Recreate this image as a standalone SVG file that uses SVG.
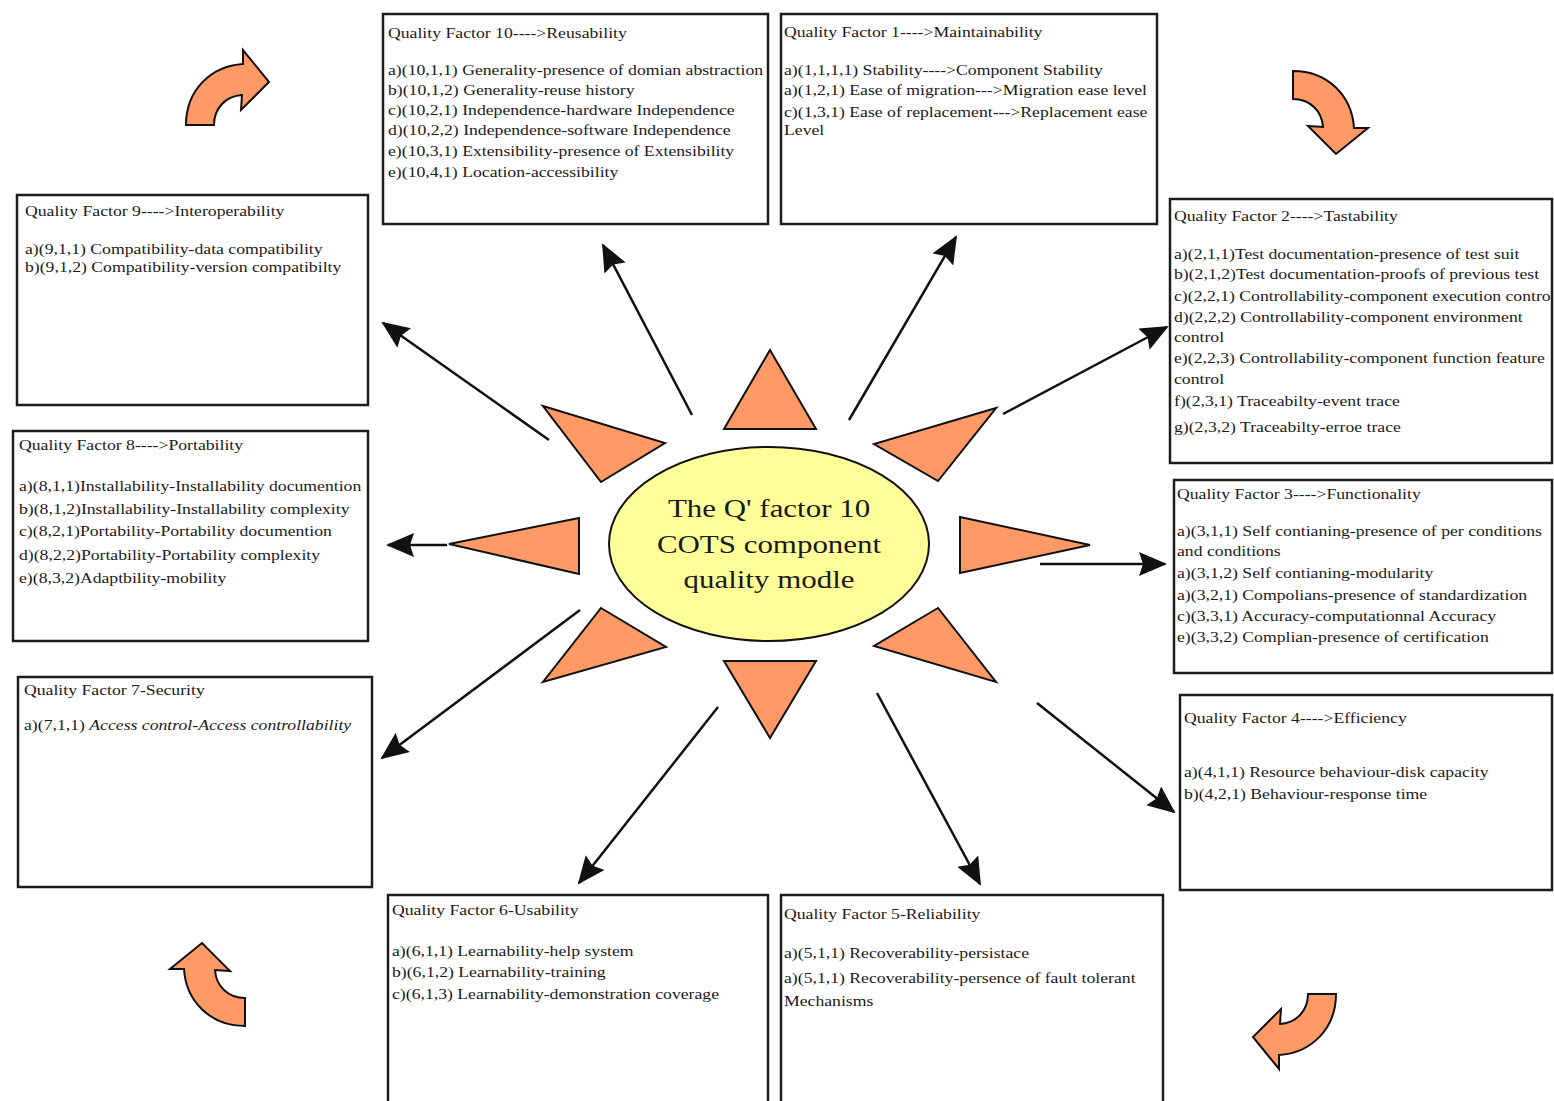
<svg xmlns="http://www.w3.org/2000/svg" width="1554" height="1101" viewBox="0 0 1554 1101">
<style>
.box{fill:#fff;stroke:#1c1c1c;stroke-width:2.5}
.t{font-family:"Liberation Serif","Times New Roman",serif;font-size:15px;fill:#1a1a1a}
.ct{font-family:"Liberation Serif","Times New Roman",serif;font-size:26px;fill:#1a1a1a;text-anchor:middle}
.tri{fill:#FF9966;stroke:#111;stroke-width:2;stroke-linejoin:miter}
.con{stroke:#111;stroke-width:2.5;fill:none;marker-end:url(#ah)}
.curv{fill:#FF9966;stroke:#111;stroke-width:2}
</style>
<defs>
<marker id="ah" markerUnits="userSpaceOnUse" markerWidth="28" markerHeight="24" refX="26" refY="12" orient="auto" viewBox="0 0 28 24">
<path d="M0,0 L28,12 L0,24 L4,12 Z" fill="#111"/>
</marker>
<path id="carrow" d="M-41,37 C-41,2 -16,-22 16,-24 L16,-38 L42,-6 L14,22 L15,7 C-1,8 -13,20 -13,37 Z"/>
<clipPath id="c10"><rect x="383" y="14" width="385" height="210"/></clipPath>
<clipPath id="c1"><rect x="781" y="14" width="376" height="210"/></clipPath>
<clipPath id="c2"><rect x="1170" y="199" width="382" height="264"/></clipPath>
<clipPath id="c9"><rect x="17" y="195" width="351" height="210"/></clipPath>
<clipPath id="c8"><rect x="13" y="431" width="355" height="210"/></clipPath>
<clipPath id="c3"><rect x="1174" y="480" width="378" height="193"/></clipPath>
<clipPath id="c7"><rect x="18" y="677" width="354" height="210"/></clipPath>
<clipPath id="c4"><rect x="1180" y="695" width="372" height="195"/></clipPath>
<clipPath id="c6"><rect x="388" y="895" width="380" height="210"/></clipPath>
<clipPath id="c5"><rect x="781" y="895" width="382" height="210"/></clipPath>
</defs>
<rect width="1554" height="1101" fill="#fff"/>

<g id="connectors">
<line class="con" x1="692" y1="415" x2="603" y2="245"/>
<line class="con" x1="849" y1="420" x2="956" y2="237"/>
<line class="con" x1="1003" y1="414" x2="1167" y2="327"/>
<line class="con" x1="549" y1="440" x2="383" y2="323"/>
<line class="con" x1="447" y1="545" x2="388" y2="545"/>
<line class="con" x1="1040" y1="564" x2="1165" y2="564"/>
<line class="con" x1="580" y1="610" x2="382" y2="758"/>
<line class="con" x1="1037" y1="703" x2="1174" y2="812"/>
<line class="con" x1="718" y1="707" x2="579" y2="883"/>
<line class="con" x1="877" y1="693" x2="980" y2="884"/>
</g>

<g id="center">
<polygon class="tri" points="770,350 816,429 724,429"/>
<polygon class="tri" points="543,406 665,443 601,482"/>
<polygon class="tri" points="996,408 874,444 938,481"/>
<polygon class="tri" points="449,544 579,518 579,574"/>
<polygon class="tri" points="1090,545 960,517 960,573"/>
<polygon class="tri" points="601,608 666,647 543,682"/>
<polygon class="tri" points="938,608 874,646 996,682"/>
<polygon class="tri" points="724,661 816,661 770,738"/>
<ellipse cx="769" cy="544" rx="160" ry="97" fill="#FFFF99" stroke="#111" stroke-width="2"/>
<g transform="translate(769,0) scale(1.19,1)">
<text class="ct" x="0" y="517">The Q' factor 10</text>
<text class="ct" x="0" y="553">COTS component</text>
<text class="ct" x="0" y="588">quality modle</text>
</g>
</g>

<g id="cycle-arrows">
<use href="#carrow" class="curv" transform="translate(227,88)"/>
<use href="#carrow" class="curv" transform="translate(1330,112) rotate(90)"/>
<use href="#carrow" class="curv" transform="translate(1295,1031) rotate(180)"/>
<use href="#carrow" class="curv" transform="translate(208,985) rotate(270)"/>
</g>

<g id="qf10">
<rect class="box" x="383" y="14" width="385" height="210"/>
<g clip-path="url(#c10)"><g transform="translate(388,0) scale(1.18,1)">
<text class="t" x="0" y="38">Quality Factor 10----&gt;Reusability</text>
<text class="t" x="0" y="75">a)(10,1,1) Generality-presence of domian abstraction</text>
<text class="t" x="0" y="95">b)(10,1,2) Generality-reuse history</text>
<text class="t" x="0" y="115">c)(10,2,1) Independence-hardware Independence</text>
<text class="t" x="0" y="135">d)(10,2,2) Independence-software Independence</text>
<text class="t" x="0" y="156">e)(10,3,1) Extensibility-presence of Extensibility</text>
<text class="t" x="0" y="177">e)(10,4,1) Location-accessibility</text>
</g></g>
</g>

<g id="qf1">
<rect class="box" x="781" y="14" width="376" height="210"/>
<g clip-path="url(#c1)"><g transform="translate(784,0) scale(1.18,1)">
<text class="t" x="0" y="37">Quality Factor 1----&gt;Maintainability</text>
<text class="t" x="0" y="75">a)(1,1,1,1) Stability----&gt;Component Stability</text>
<text class="t" x="0" y="95">a)(1,2,1) Ease of migration---&gt;Migration ease level</text>
<text class="t" x="0" y="117">c)(1,3,1) Ease of replacement---&gt;Replacement ease</text>
<text class="t" x="0" y="135">Level</text>
</g></g>
</g>

<g id="qf2">
<rect class="box" x="1170" y="199" width="382" height="264"/>
<g clip-path="url(#c2)"><g transform="translate(1174,0) scale(1.18,1)">
<text class="t" x="0" y="221">Quality Factor 2----&gt;Tastability</text>
<text class="t" x="0" y="259">a)(2,1,1)Test documentation-presence of test suit</text>
<text class="t" x="0" y="279">b)(2,1,2)Test documentation-proofs of previous test</text>
<text class="t" x="0" y="301">c)(2,2,1) Controllability-component execution control</text>
<text class="t" x="0" y="322">d)(2,2,2) Controllability-component environment</text>
<text class="t" x="0" y="342">control</text>
<text class="t" x="0" y="363">e)(2,2,3) Controllability-component function feature</text>
<text class="t" x="0" y="384">control</text>
<text class="t" x="0" y="406">f)(2,3,1) Traceabilty-event trace</text>
<text class="t" x="0" y="432">g)(2,3,2) Traceabilty-erroe trace</text>
</g></g>
</g>

<g id="qf9">
<rect class="box" x="17" y="195" width="351" height="210"/>
<g clip-path="url(#c9)"><g transform="translate(25,0) scale(1.18,1)">
<text class="t" x="0" y="216">Quality Factor 9----&gt;Interoperability</text>
<text class="t" x="0" y="254">a)(9,1,1) Compatibility-data compatibility</text>
<text class="t" x="0" y="272">b)(9,1,2) Compatibility-version compatibilty</text>
</g></g>
</g>

<g id="qf8">
<rect class="box" x="13" y="431" width="355" height="210"/>
<g clip-path="url(#c8)"><g transform="translate(19,0) scale(1.18,1)">
<text class="t" x="0" y="450">Quality Factor 8----&gt;Portability</text>
<text class="t" x="0" y="491">a)(8,1,1)Installability-Installability documention</text>
<text class="t" x="0" y="514">b)(8,1,2)Installability-Installability complexity</text>
<text class="t" x="0" y="536">c)(8,2,1)Portability-Portability documention</text>
<text class="t" x="0" y="560">d)(8,2,2)Portability-Portability complexity</text>
<text class="t" x="0" y="583">e)(8,3,2)Adaptbility-mobility</text>
</g></g>
</g>

<g id="qf3">
<rect class="box" x="1174" y="480" width="378" height="193"/>
<g clip-path="url(#c3)"><g transform="translate(1177,0) scale(1.18,1)">
<text class="t" x="0" y="499">Quality Factor 3----&gt;Functionality</text>
<text class="t" x="0" y="536">a)(3,1,1) Self contianing-presence of per conditions</text>
<text class="t" x="0" y="556">and conditions</text>
<text class="t" x="0" y="578">a)(3,1,2) Self contianing-modularity</text>
<text class="t" x="0" y="600">a)(3,2,1) Compolians-presence of standardization</text>
<text class="t" x="0" y="621">c)(3,3,1) Accuracy-computationnal Accuracy</text>
<text class="t" x="0" y="642">e)(3,3,2) Complian-presence of certification</text>
</g></g>
</g>

<g id="qf7">
<rect class="box" x="18" y="677" width="354" height="210"/>
<g clip-path="url(#c7)"><g transform="translate(24,0) scale(1.18,1)">
<text class="t" x="0" y="695">Quality Factor 7-Security</text>
<text class="t" x="0" y="730">a)(7,1,1) <tspan font-style="italic">Access control-Access controllability</tspan></text>
</g></g>
</g>

<g id="qf4">
<rect class="box" x="1180" y="695" width="372" height="195"/>
<g clip-path="url(#c4)"><g transform="translate(1184,0) scale(1.18,1)">
<text class="t" x="0" y="723">Quality Factor 4----&gt;Efficiency</text>
<text class="t" x="0" y="777">a)(4,1,1) Resource behaviour-disk capacity</text>
<text class="t" x="0" y="799">b)(4,2,1)  Behaviour-response time</text>
</g></g>
</g>

<g id="qf6">
<rect class="box" x="388" y="895" width="380" height="220"/>
<g clip-path="url(#c6)"><g transform="translate(392,0) scale(1.18,1)">
<text class="t" x="0" y="915">Quality Factor 6-Usability</text>
<text class="t" x="0" y="956">a)(6,1,1) Learnability-help system</text>
<text class="t" x="0" y="977">b)(6,1,2) Learnability-training</text>
<text class="t" x="0" y="999">c)(6,1,3) Learnability-demonstration coverage</text>
</g></g>
</g>

<g id="qf5">
<rect class="box" x="781" y="895" width="382" height="220"/>
<g clip-path="url(#c5)"><g transform="translate(784,0) scale(1.18,1)">
<text class="t" x="0" y="919">Quality Factor 5-Reliability</text>
<text class="t" x="0" y="958">a)(5,1,1) Recoverability-persistace</text>
<text class="t" x="0" y="983">a)(5,1,1) Recoverability-persence of fault tolerant</text>
<text class="t" x="0" y="1006">Mechanisms</text>
</g></g>
</g>
</svg>
